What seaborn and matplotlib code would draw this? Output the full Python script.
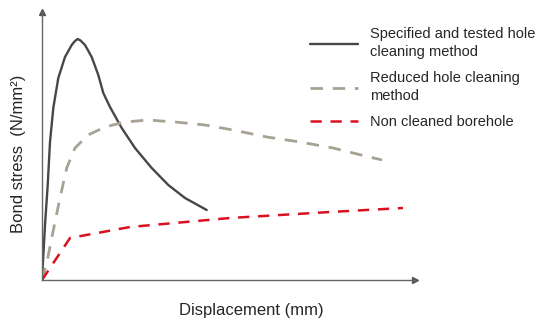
import matplotlib
matplotlib.use("Agg")
import matplotlib.pyplot as plt
import seaborn as sns

sns.set_style("white")
plt.rcParams['font.family'] = ['Liberation Sans', 'DejaVu Sans']

# curve values (arbitrary units)
specified_x = [0, 3, 5.7, 8, 11.3, 16.3, 23, 29.7, 33, 35.7, 38.5, 43, 49.7, 56.3,
               61.3, 68, 79.7, 93, 109.7, 126.3, 143, 164.7]
specified_y = [0, 55, 95, 138, 172, 202, 223, 235, 239, 241, 239.5, 235, 223, 205,
               187, 173, 152, 132, 112, 95, 82, 70]

reduced_x = [0, 4.7, 13, 18, 24.7, 33, 46, 63, 83, 106, 133, 163, 191, 225, 258,
             291, 311, 340]
reduced_y = [0, 17, 58, 82, 112, 132, 145, 153, 158, 160, 158, 155, 150, 143, 138,
             132, 127, 120]

noclean_x = [0, 28, 88, 188, 288, 361]
noclean_y = [0, 42, 53, 62, 68, 72]

labels = ['Specified and tested hole\ncleaning method',
          'Reduced hole cleaning\nmethod',
          'Non cleaned borehole']

fig = plt.figure(figsize=(5.39, 3.2), dpi=100)
ax = fig.add_axes([42/539, 40/320, 373/539, 268/320])

sns.lineplot(x=specified_x, y=specified_y, sort=False, estimator=None, ax=ax,
             color='#474747', lw=1.7, label=labels[0])
sns.lineplot(x=reduced_x, y=reduced_y, sort=False, estimator=None, ax=ax,
             color='#a7a293', lw=2.0, label=labels[1])
sns.lineplot(x=noclean_x, y=noclean_y, sort=False, estimator=None, ax=ax,
             color='#d9101e', lw=1.8, label=labels[2])
ax.lines[1].set_dashes([4.5, 3.5])
ax.lines[2].set_dashes([4.5, 3.5])
for ln in ax.lines:
    ln.set_solid_joinstyle('round')
    ln.set_dash_joinstyle('round')

ax.set_xlim(0, 373)
ax.set_ylim(0, 268)
ax.set_xticks([])
ax.set_yticks([])
for s in ['top', 'right']:
    ax.spines[s].set_visible(False)
for s in ['left', 'bottom']:
    ax.spines[s].set_color('#666666')
    ax.spines[s].set_linewidth(1.0)
ax.plot(1, 0, '>', color='#555555', ms=5, transform=ax.transAxes, clip_on=False)
ax.plot(0, 1, '^', color='#555555', ms=5, transform=ax.transAxes, clip_on=False)

ax.set_xlabel('Displacement (mm)', fontsize=12, va='center')
ax.xaxis.set_label_coords((251 - 42) / 373, -(310 - 280) / 268)
ax.set_ylabel('Bond stress  (N/mm²)', fontsize=12, va='center')
ax.yaxis.set_label_coords((19 - 42) / 373, (280 - 154) / 268)

leg = ax.legend(loc='upper left', bbox_to_anchor=(310/539, 1 - 27/320),
                bbox_transform=fig.transFigure, frameon=False, fontsize=10.5,
                borderpad=0, borderaxespad=0, handlelength=3.3,
                handletextpad=0.8, labelspacing=0.8)
for t in leg.get_texts():
    t.set_linespacing(1.4)

fig.savefig('out.png', dpi=100)
